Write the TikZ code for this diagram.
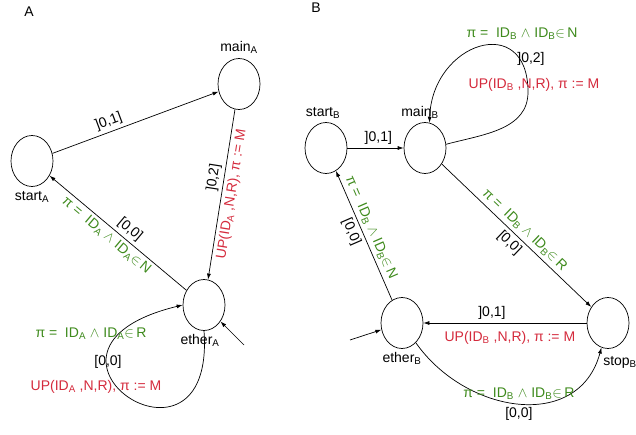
\documentclass[tikz,border=0pt]{standalone}
\usepackage{fontspec}
\setmainfont{Liberation Sans}
\usetikzlibrary{positioning,shapes,arrows.meta}
\definecolor{grdgreen}{HTML}{3E8A1C}
\definecolor{updred}{HTML}{D42A3C}
\tikzstyle{loc}=[draw, ellipse, minimum width=42pt, minimum height=51pt, inner sep=0pt]
\tikzstyle{grd}=[text=grdgreen]
\tikzstyle{upd}=[text=updred]
\newcommand{\grdlbl}[2]{π =\ \ ID\textsubscript{#1} $\wedge$ ID\textsubscript{#1}$\in$\,$\mathrm{#2}$}
\newcommand{\updlbl}[1]{UP(ID\textsubscript{#1} ,N,R), π := M}

\begin{document}
\begin{tikzpicture}[x=1pt,y=1pt,>={Latex[length=6pt,width=4pt]},font=\fontsize{14}{16}\selectfont,line width=0.7pt]
\useasboundingbox (0,0) rectangle (636,-435);
\node at (29,-12) (titleA) {A};
\node at (316,-8) (titleB) {B};

% automaton A
\node[loc] at (32,-161) (startA) {};
\node[loc] at (239,-84) (mainA) {};
\node[loc] at (204,-305) (etherA) {};
\node[below=1pt of startA] (startAname) {start\textsubscript{A}};
\node[above=1pt of mainA] (mainAname) {main\textsubscript{A}};
\node[below=0pt of etherA, xshift=-4pt] (etherAname) {ether\textsubscript{A}};

\draw[->] (startA) -- node[pos=0.36, sloped, above] {]0,1]} (mainA);
\draw[->] (mainA) -- node[pos=0.41, sloped, above] {]0,2]} node[upd, pos=0.49, sloped, below] {\updlbl{A}} (etherA);
\draw[->] (etherA) -- node[pos=0.46, sloped, above] {[0,0]} node[grd, pos=0.54, sloped, below] {\grdlbl{A}{N}} (startA);
\draw[->] (etherA.south) .. controls +(12,-165) and +(-185,-45) .. (etherA.west);
\node[grd] at (91,-334) (grdAloop) {\grdlbl{A}{R}};
\node at (108,-362) (clkAloop) {[0,0]};
\node[upd] at (96,-387) (updAloop) {\updlbl{A}};

\coordinate (initA) at (244,-345);
\draw[->] (initA) -- (etherA);

% automaton B
\node[loc] at (326,-148) (startB) {};
\node[loc] at (425,-148) (mainB) {};
\node[loc] at (402,-323) (etherB) {};
\node[loc] at (608,-323) (stopB) {};
\node[above=0pt of startB, xshift=-3pt] (startBname) {start\textsubscript{B}};
\node[above=0pt of mainB, xshift=-5pt] (mainBname) {main\textsubscript{B}};
\node[below=0pt of etherB] (etherBname) {ether\textsubscript{B}};
\node[below=4pt of stopB, xshift=12pt] (stopBname) {stop\textsubscript{B}};

\draw[->] (startB) -- node[pos=0.55, above] {]0,1]} (mainB);

\coordinate (loopB) at (528,-92);
\draw[->] (mainB.10) to[out=15,in=-90] (loopB) to[out=90,in=88,looseness=2.0] (mainB.80);
\node[grd] at (522,-34) (grdBloop) {\grdlbl{B}{N}};
\node at (531,-59) (clkBloop) {]0,2]};
\node[upd] at (534,-85) (updBloop) {\updlbl{B}};

\draw[->] (mainB) -- node[grd, pos=0.51, sloped, above] {\grdlbl{B}{R}} node[pos=0.5, sloped, below] {[0,0]} (stopB);
\draw[->] (stopB) -- node[pos=0.58, above] {]0,1]} node[upd, pos=0.47, below, yshift=-5pt] {\updlbl{B}} (etherB);
\draw[->] (etherB) -- node[grd, pos=0.53, sloped, above] {\grdlbl{B}{N}} node[pos=0.56, sloped, below] {[0,0]} (startB);
\draw[->] (etherB) to[out=-55,in=-105,looseness=1.2] node[grd, pos=0.5, above] {\grdlbl{B}{R}} node[pos=0.5, below] {[0,0]} (stopB);

\coordinate (initB) at (350,-340);
\draw[->] (initB) -- (etherB);
\end{tikzpicture}
\end{document}
